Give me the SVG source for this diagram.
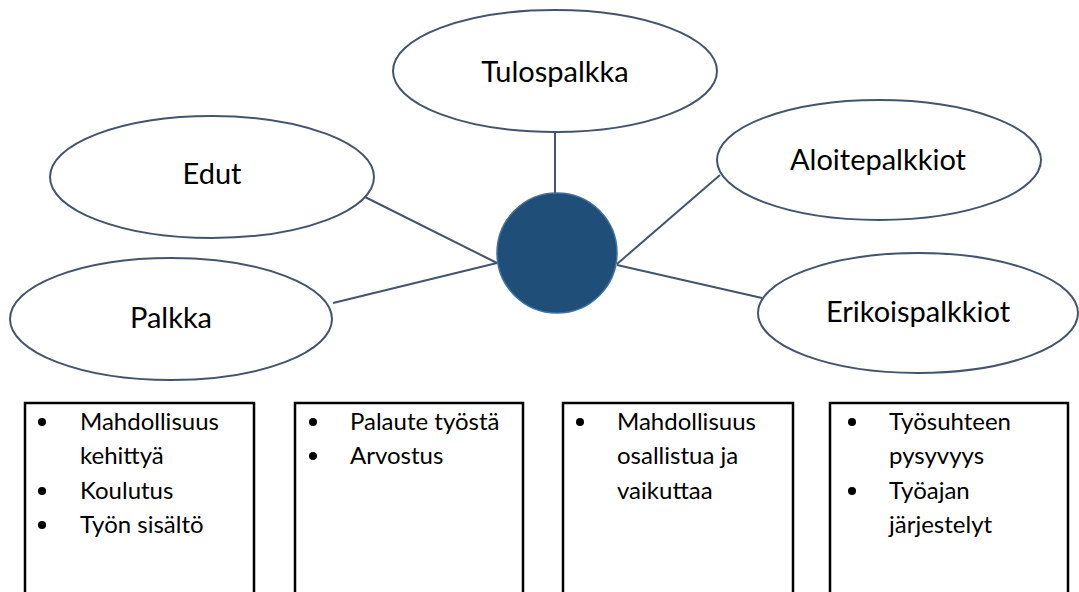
<svg xmlns="http://www.w3.org/2000/svg" width="1079" height="592" viewBox="0 0 1079 592">
<style>
.ell{fill:#fff;stroke:#44546a;stroke-width:2}
.lbl{font-family:Lato,"Liberation Sans",sans-serif;font-size:29px;fill:#000;text-anchor:middle}
.con{stroke:#44546a;stroke-width:2;fill:none}
.box{fill:#fff;stroke:#000;stroke-width:2.5}
.bt{font-family:Lato,"Liberation Sans",sans-serif;font-size:24px;fill:#000}
.dot{fill:#000}
</style>
<rect width="1079" height="592" fill="#fff"/>
<g id="connectors">
<line class="con" x1="555" y1="132" x2="555" y2="194"/>
<line class="con" x1="365" y1="197" x2="497" y2="263"/>
<line class="con" x1="333" y1="303" x2="497" y2="263"/>
<line class="con" x1="720" y1="175" x2="617" y2="264"/>
<line class="con" x1="617" y1="265" x2="762" y2="298"/>
</g>
<g id="center"><circle cx="557" cy="253" r="60" fill="#1f4e79" stroke="#41719c" stroke-width="1.5"/></g>
<g id="tulospalkka"><ellipse class="ell" cx="555" cy="71" rx="162" ry="61"/><text class="lbl" x="555" y="82">Tulospalkka</text></g>
<g id="edut"><ellipse class="ell" cx="212" cy="177" rx="162" ry="61"/><text class="lbl" x="212" y="184">Edut</text></g>
<g id="palkka"><ellipse class="ell" cx="171" cy="319" rx="161" ry="61"/><text class="lbl" x="171" y="328">Palkka</text></g>
<g id="aloitepalkkiot"><ellipse class="ell" cx="879" cy="160" rx="162" ry="60"/><text class="lbl" x="878" y="170">Aloitepalkkiot</text></g>
<g id="erikoispalkkiot"><ellipse class="ell" cx="918" cy="313" rx="160" ry="60"/><text class="lbl" x="918" y="322">Erikoispalkkiot</text></g>
<g id="box1"><rect class="box" x="25" y="403" width="229" height="200"/>
<circle class="dot" cx="42" cy="422" r="4"/><circle class="dot" cx="42" cy="491" r="4"/><circle class="dot" cx="42" cy="525" r="4"/>
<text class="bt" x="80" y="430">Mahdollisuus</text><text class="bt" x="80" y="464">kehittyä</text><text class="bt" x="80" y="499">Koulutus</text><text class="bt" x="80" y="533">Työn sisältö</text></g>
<g id="box2"><rect class="box" x="295" y="403" width="228" height="200"/>
<circle class="dot" cx="313" cy="422" r="4"/><circle class="dot" cx="313" cy="456" r="4"/>
<text class="bt" x="350" y="430">Palaute työstä</text><text class="bt" x="350" y="464">Arvostus</text></g>
<g id="box3"><rect class="box" x="563" y="403" width="230" height="200"/>
<circle class="dot" cx="580" cy="422" r="4"/>
<text class="bt" x="617" y="430">Mahdollisuus</text><text class="bt" x="617" y="464">osallistua ja</text><text class="bt" x="617" y="499">vaikuttaa</text></g>
<g id="box4"><rect class="box" x="830" y="403" width="238" height="200"/>
<circle class="dot" cx="852" cy="422" r="4"/><circle class="dot" cx="852" cy="491" r="4"/>
<text class="bt" x="889" y="430">Työsuhteen</text><text class="bt" x="889" y="464">pysyvyys</text><text class="bt" x="889" y="499">Työajan</text><text class="bt" x="889" y="533">järjestelyt</text></g>
</svg>
